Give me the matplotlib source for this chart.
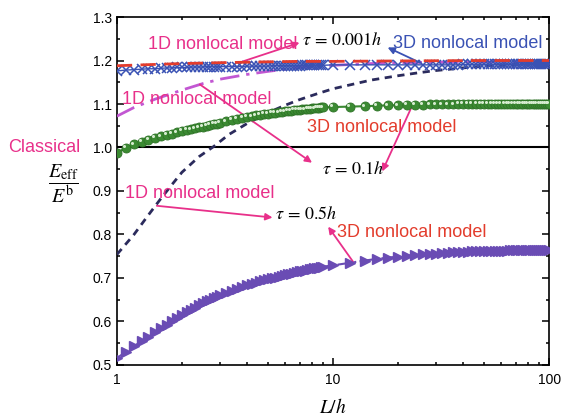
import numpy as np
import matplotlib
matplotlib.use("Agg")
import matplotlib.pyplot as plt
from matplotlib.ticker import FixedLocator, NullFormatter, MultipleLocator
import matplotlib.transforms as mtransforms

plt.rcParams['font.family'] = ['Liberation Sans', 'DejaVu Sans']
plt.rcParams['mathtext.fontset'] = 'stix'

# ---- data ----
L_pts = [1.0, 1.1, 1.2, 1.3, 1.4, 1.5, 1.6, 1.7, 1.8, 1.9, 2.0, 2.1, 2.2, 2.3, 2.4, 2.5, 2.6, 2.7, 2.8, 2.9, 3.0,
         3.2, 3.4, 3.6, 3.8, 4.0, 4.2, 4.4, 4.6, 4.8, 5.0, 5.2, 5.4, 5.6, 5.8, 6.0, 6.2, 6.4, 6.6, 6.8, 7.0,
         7.2, 7.4, 7.6, 7.8, 8.0, 8.2, 8.4, 8.6, 8.8, 9.0,
         10, 12, 14, 16, 18, 20, 22, 24, 26, 28, 30, 32, 34, 36, 38,
         40, 42, 44, 46, 48, 50, 52, 54, 56, 58, 60, 62, 64, 66, 68, 70, 72, 74, 76, 78, 80,
         82, 84, 86, 88, 90, 92, 94, 96, 98, 100]

# 3D nonlocal, tau = 0.001h (blue crosses)
y3d_001 = [1.176, 1.178, 1.179, 1.180, 1.181, 1.181, 1.182, 1.183, 1.183, 1.184, 1.184,
           1.184, 1.185, 1.185, 1.185, 1.185, 1.186, 1.186, 1.186, 1.186, 1.186,
           1.186, 1.186, 1.186, 1.186, 1.187, 1.187, 1.187, 1.187, 1.187, 1.187,
           1.188, 1.188, 1.188, 1.188, 1.188, 1.188, 1.188, 1.188, 1.188, 1.188,
           1.189, 1.189, 1.189, 1.189, 1.189, 1.189, 1.189, 1.189, 1.189, 1.189,
           1.190, 1.190, 1.190, 1.190, 1.190, 1.190, 1.190, 1.190, 1.190, 1.190, 1.190, 1.190, 1.190, 1.190, 1.190,
           1.191, 1.191, 1.191, 1.191, 1.191, 1.191, 1.191, 1.191, 1.191, 1.191, 1.191, 1.191, 1.191, 1.191, 1.191,
           1.191, 1.191, 1.191, 1.191, 1.191, 1.191,
           1.191, 1.191, 1.191, 1.191, 1.191, 1.191, 1.191, 1.191, 1.191, 1.191]

# 3D nonlocal, tau = 0.1h (green circles)
y3d_01 = [0.988, 0.999, 1.007, 1.013, 1.018, 1.022, 1.026, 1.029, 1.032, 1.035, 1.038,
          1.040, 1.042, 1.044, 1.046, 1.048, 1.050, 1.052, 1.054, 1.055, 1.057,
          1.060, 1.063, 1.066, 1.068, 1.070, 1.072, 1.074, 1.075, 1.077, 1.078,
          1.079, 1.080, 1.081, 1.082, 1.083, 1.084, 1.085, 1.086, 1.087, 1.087,
          1.088, 1.088, 1.089, 1.089, 1.090, 1.090, 1.091, 1.091, 1.092, 1.092,
          1.093, 1.094, 1.095, 1.096, 1.097, 1.097, 1.098, 1.098, 1.098, 1.099, 1.099, 1.099, 1.099, 1.099, 1.100,
          1.100, 1.100, 1.100, 1.100, 1.100, 1.100, 1.100, 1.100, 1.100, 1.100, 1.100, 1.100, 1.100, 1.100, 1.100,
          1.100, 1.100, 1.100, 1.100, 1.100, 1.100,
          1.100, 1.100, 1.100, 1.100, 1.100, 1.100, 1.100, 1.100, 1.100, 1.100]

# 3D nonlocal, tau = 0.5h (purple triangles)
y3d_05 = [0.516, 0.530, 0.543, 0.555, 0.565, 0.575, 0.584, 0.592, 0.600, 0.608, 0.615,
          0.621, 0.627, 0.632, 0.637, 0.642, 0.646, 0.650, 0.654, 0.657, 0.660,
          0.666, 0.671, 0.675, 0.679, 0.683, 0.686, 0.689, 0.692, 0.695, 0.697,
          0.699, 0.701, 0.703, 0.705, 0.707, 0.709, 0.710, 0.712, 0.713, 0.715,
          0.716, 0.717, 0.719, 0.720, 0.721, 0.722, 0.723, 0.724, 0.725, 0.726,
          0.729, 0.735, 0.740, 0.744, 0.747, 0.749, 0.751, 0.753, 0.754, 0.755, 0.756, 0.757, 0.758, 0.759, 0.759,
          0.760, 0.760, 0.761, 0.761, 0.761, 0.762, 0.762, 0.762, 0.763, 0.763, 0.763, 0.763, 0.763, 0.764, 0.764,
          0.764, 0.764, 0.764, 0.764, 0.764, 0.765,
          0.765, 0.765, 0.765, 0.765, 0.765, 0.765, 0.765, 0.765, 0.765, 0.765]

# 1D nonlocal curves
L_1d_001 = [1, 1.5, 2, 3, 5, 7, 10, 20, 50, 100]
y1d_001 = [1.188, 1.191, 1.193, 1.195, 1.197, 1.198, 1.198, 1.199, 1.200, 1.200]

L_1d_01 = [1, 1.2, 1.5, 2, 2.5, 3, 4, 5, 7, 10, 15, 20, 30, 50, 100]
y1d_01 = [1.072, 1.092, 1.111, 1.132, 1.147, 1.157, 1.168, 1.175, 1.184, 1.189, 1.193, 1.195, 1.196, 1.197, 1.198]

L_1d_05 = [1, 1.2, 1.4, 1.6, 1.8, 2, 2.4, 2.8, 3.3, 4, 5, 6, 7, 8.5, 10, 15, 20, 25, 30, 40, 50, 70, 100]
y1d_05 = [0.754, 0.800, 0.845, 0.883, 0.915, 0.943, 0.979, 1.002, 1.030, 1.055, 1.080, 1.097, 1.110, 1.124,
          1.135, 1.155, 1.165, 1.172, 1.177, 1.183, 1.187, 1.191, 1.195]

classical = 1.0
x_ticks = [1, 10, 100]
x_ticklabels = ['1', '10', '100']
y_ticks = [0.5, 0.6, 0.7, 0.8, 0.9, 1.0, 1.1, 1.2, 1.3]

# ---- colours ----
PINK = '#e8308a'
BLUE = '#3a52b4'
RED = '#e33c2c'
GREEN = '#3b8a32'
PURPLE = '#6a4cb4'
MAGENTA = '#c257d2'
NAVY = '#2b2b5c'

fig = plt.figure(figsize=(5.62, 4.20), dpi=100)
ax = fig.add_axes([0.208, 0.131, 0.769, 0.8285])
ax.set_xscale('log')
ax.set_xlim(1, 100)
ax.set_ylim(0.5, 1.3)

ax.axhline(classical, color='k', lw=1.5, zorder=2)

ax.plot(L_1d_05, y1d_05, color=NAVY, lw=2, dashes=[2.6, 2.0], zorder=3)
ax.plot(L_1d_01, y1d_01, color=MAGENTA, lw=2, dashes=[7, 2.5, 1.2, 2.5], zorder=3)

ax.plot(L_pts, y3d_05, color=PURPLE, lw=1.5, ls='-.', marker='>', ms=7, mec=PURPLE, mfc=PURPLE, zorder=4)
ax.plot(L_pts, y3d_01, color=GREEN, lw=1.5, marker='o', ms=6.5, mec='#2f7328', mfc=GREEN, mew=0.6, zorder=4)
hl = mtransforms.offset_copy(ax.transData, fig=fig, x=-1.2, y=1.2, units='points')
ax.plot(L_pts, y3d_01, ls='none', marker='o', ms=2.2, mfc='#d6ecd0', mec='none', transform=hl, zorder=5)

ax.plot(L_pts, y3d_001, color=BLUE, lw=1.0, marker='x', ms=7, mew=1.1, mec=BLUE, zorder=4)
ax.plot(L_1d_001, y1d_001, color=RED, lw=2, dashes=[5.5, 3], zorder=5)

# axes styling
for s in ax.spines.values():
    s.set_linewidth(1.2)
ax.xaxis.set_major_locator(FixedLocator(x_ticks))
ax.set_xticklabels(x_ticklabels)
ax.xaxis.set_minor_locator(FixedLocator([2, 3, 4, 5, 6, 7, 8, 9, 20, 30, 40, 50, 60, 70, 80, 90]))
ax.xaxis.set_minor_formatter(NullFormatter())
ax.yaxis.set_major_locator(FixedLocator(y_ticks))
ax.yaxis.set_minor_locator(MultipleLocator(0.05))
ax.set_yticklabels([f'{v:.1f}' for v in y_ticks])
ax.tick_params(which='both', direction='in', top=True, right=True, width=1.1, labelsize=10)
ax.tick_params(which='major', length=5)
ax.tick_params(which='minor', length=2.5)
ax.tick_params(axis='x', pad=6)

ax.set_xlabel(r'$L/h$', fontsize=14, labelpad=8)
fig.text(0.113, 0.562, r'$\dfrac{E_{\rm eff}}{E^{\rm b}}$', fontsize=14.5, ha='center', va='center')

# annotations
arw = dict(arrowstyle='-|>', color=PINK, lw=1.3, mutation_scale=10, shrinkA=0, shrinkB=0)
ax.text(1.39, 1.237, '1D nonlocal model', color=PINK, fontsize=13, va='center', ha='left')
ax.text(7.2, 1.246, r'$\tau\,=\,0.001h$', color='k', fontsize=13, va='center', ha='left')
ax.annotate('', xy=(7.0, 1.241), xytext=(3.83, 1.198), arrowprops=arw)

ax.text(18.9, 1.239, '3D nonlocal model', color=BLUE, fontsize=13, va='center', ha='left')
ax.annotate('', xy=(17.9, 1.230), xytext=(25.3, 1.195),
            arrowprops=dict(arw, color=BLUE))

ax.text(1.055, 1.110, '1D nonlocal model', color=PINK, fontsize=13, va='center', ha='left')
ax.annotate('', xy=(8.0, 0.965), xytext=(2.42, 1.145), arrowprops=arw)
ax.text(8.9, 0.949, r'$\tau\,=\,0.1h$', color='k', fontsize=13, va='center', ha='left')

ax.text(7.6, 1.046, '3D nonlocal model', color=RED, fontsize=13, va='center', ha='left')
ax.annotate('', xy=(16.9, 0.945), xytext=(23.4, 1.099), arrowprops=arw)

ax.annotate('Classical', xy=(1, classical), xytext=(-37, 0), textcoords='offset pixels',
            color=PINK, fontsize=13, ha='right', va='center', annotation_clip=False)

ax.text(1.09, 0.894, '1D nonlocal model', color=PINK, fontsize=13, va='center', ha='left')
ax.annotate('', xy=(5.25, 0.839), xytext=(1.53, 0.866), arrowprops=arw)
ax.text(5.4, 0.845, r'$\tau\,=\,0.5h$', color='k', fontsize=13, va='center', ha='left')

ax.text(10.4, 0.804, '3D nonlocal model', color=RED, fontsize=13, va='center', ha='left')
ax.annotate('', xy=(9.5, 0.818), xytext=(12.4, 0.737), arrowprops=arw)

fig.savefig('out.png', dpi=100)
